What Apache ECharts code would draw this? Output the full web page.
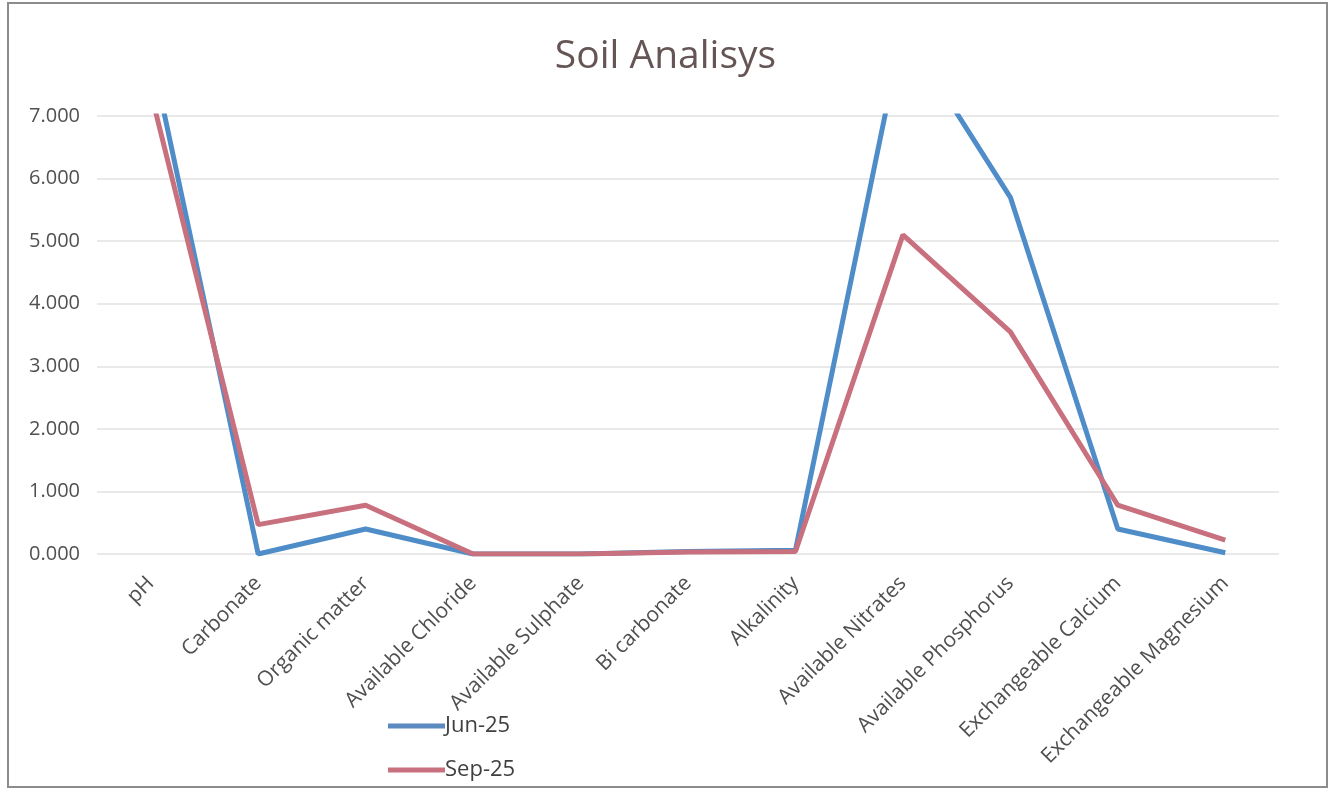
<!DOCTYPE html>
<html>
<head>
<meta charset="utf-8">
<script src="https://cdn.jsdelivr.net/npm/echarts@6/dist/echarts.min.js"></script>
<style>
html,body{margin:0;padding:0;background:#fff;}
#c{width:1331px;height:789px;}
</style>
</head>
<body>
<div id="c"></div>
<script>
const categories = ['pH','Carbonate','Organic matter','Available Chloride','Available Sulphate','Bi carbonate','Alkalinity','Available Nitrates','Available Phosphorus','Exchangeable Calcium','Exchangeable Magnesium'];
const jun25 = [8.05, 0.0, 0.40, 0.0, 0.0, 0.04, 0.06, 8.4, 5.70, 0.40, 0.02];
const sep25 = [7.38, 0.47, 0.78, 0.0, 0.0, 0.03, 0.04, 5.10, 3.55, 0.78, 0.22];
const yTicks = [0, 1, 2, 3, 4, 5, 6, 7];

const chart = echarts.init(document.getElementById('c'));
chart.setOption({
  backgroundColor: '#ffffff',
  animation: false,
  graphic: [{
    type: 'rect', silent: true, z: -1,
    shape: {x: 8, y: 3, width: 1319, height: 784},
    style: {fill: 'none', stroke: '#8c8c8c', lineWidth: 2}
  }],
  title: {
    text: 'Soil Analisys',
    left: 'center',
    top: 32,
    textStyle: {fontFamily: 'Open Sans', fontSize: 39, fontWeight: 'normal', color: '#655555'}
  },
  legend: {
    orient: 'vertical',
    left: 388,
    top: 712,
    padding: 0,
    itemWidth: 57,
    itemHeight: 5,
    itemGap: 16,
    icon: 'rect',
    textStyle: {fontFamily: 'Open Sans', fontSize: 22, color: '#404040', padding: [0,0,0,-5], lineHeight: 28},
    data: ['Jun-25', 'Sep-25']
  },
  grid: {left: 97, right: 52, top: 116, bottom: 235, containLabel: false},
  xAxis: {
    type: 'category',
    data: categories,
    boundaryGap: true,
    axisLine: {show: false},
    axisTick: {show: false},
    axisLabel: {rotate: 45, margin: 26, fontFamily: 'Open Sans', fontSize: 21, color: '#505050', interval: 0}
  },
  yAxis: {
    type: 'value',
    min: yTicks[0],
    max: yTicks[yTicks.length - 1],
    interval: 1,
    axisLine: {show: false},
    axisTick: {show: false},
    splitLine: {lineStyle: {color: '#e2e2e2', width: 1.5}},
    axisLabel: {margin: 17, fontFamily: 'Open Sans', fontSize: 20, color: '#505050', formatter: v => v.toFixed(3)}
  },
  series: [
    {name: 'Jun-25', type: 'line', data: jun25, symbol: 'none', clip: true,
     lineStyle: {width: 5, color: '#4f8dc8'}, itemStyle: {color: '#5b8ac0'}},
    {name: 'Sep-25', type: 'line', data: sep25, symbol: 'none', clip: true,
     lineStyle: {width: 5, color: '#c8707e'}, itemStyle: {color: '#c8707e'}}
  ]
});
</script>
</body>
</html>
